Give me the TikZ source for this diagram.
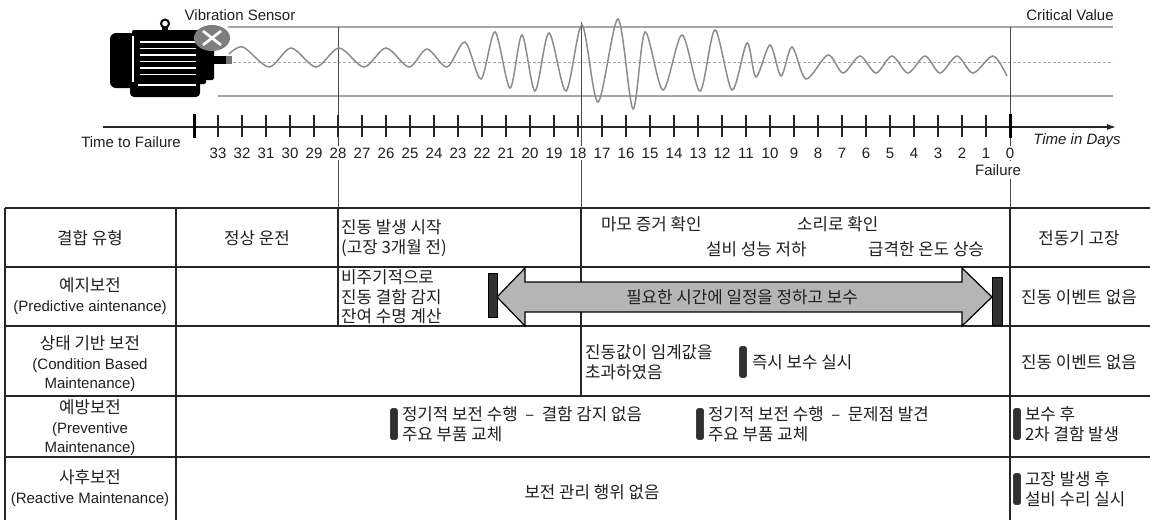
\documentclass[tikz,border=0pt]{standalone}
\usepackage{fontspec}
\setmainfont{Liberation Sans}
\newfontfamily\kr{Noto Sans CJK KR}
\usepackage{tikz}
\usetikzlibrary{arrows.meta,positioning}
\definecolor{ink}{HTML}{1F1F1F}
\definecolor{rulec}{HTML}{262626}
\definecolor{guidec}{HTML}{4A4A4A}
\definecolor{critc}{HTML}{A6A6A6}
\definecolor{wavec}{HTML}{8C8C8C}
\definecolor{sensorc}{HTML}{7E7E7E}
\definecolor{barc}{HTML}{303030}
\definecolor{bandc}{HTML}{B5B5B5}

\begin{document}
\begin{tikzpicture}[x=1pt,y=-1pt,
    lbl/.style={text=ink,inner sep=0pt,font=\fontsize{15}{19.5}\selectfont},
    kor/.style={lbl,font=\kr\fontsize{16.8}{20}\selectfont},
    daynum/.style={lbl,fill=white,inner xsep=1pt,inner ysep=2pt},
    marker/.style={fill=barc,draw=black!75,line width=0.6pt,rounded corners=1.5pt,minimum width=7pt,minimum height=31pt,inner sep=0pt},
    tblline/.style={rulec,line width=1.3}]
        \useasboundingbox (0,0) rectangle (1150,520);
        \draw[critc,line width=1.2] (228,27) -- (1113,27);
        \draw[critc,line width=1.2] (218,96) -- (1113,96);
        \draw[critc,line width=0.8,dash pattern=on 3pt off 2pt] (228,62) -- (1113,62);
        \draw[guidec,line width=1] (338,27) -- (338,208);
        \draw[guidec,line width=1] (581,22) -- (581,208);
        \draw[guidec,line width=1] (1010,27) -- (1010,208);
        \draw[wavec,line width=1.5] plot[smooth,tension=0.5] coordinates {(229,54) (243,47) (269,67) (291,48) (316,67) (339,48) (364,67) (386,48) (409,67) (427,49) (447,67) (465,42) (481,79) (495,32) (510,88) (522,35) (535,91) (549,33) (566,91) (582,25) (598,102) (618,19) (633,109) (645,32) (663,90) (682,35) (700,91) (715,30) (732,90) (747,43) (756,77) (770,45) (781,76) (792,47) (806,79) (828,55) (843,73) (860,56) (876,73) (892,56) (908,73) (925,56) (940,73) (957,56) (973,73) (993,56) (1007,76)};
        % motor
        \fill[black,rounded corners=6] (110,33) rectangle (136,88);
        \fill[black,rounded corners=2] (132,30) rectangle (206,84);
        \fill[black,rounded corners=4] (130,80) rectangle (200,97);
        \fill[black,rounded corners=2] (203,40) rectangle (214,80);
        \fill[black] (213,56) rectangle (229,64);
        \fill[black!55] (226,56) rectangle (232,64);
        \draw[black,line width=2] (165,23.5) circle (4);
        \fill[black] (162,27) rectangle (168,31);
        \draw[white,line width=1.2] (133,36) -- (133,82) (138,85) -- (196,85);
        \foreach \y in {42,48.5,55,61.5,68,74.5} {\draw[white,line width=1.8] (140,\y) -- (196,\y);}
        \fill[sensorc] (212,38) ellipse (18 and 13);
        \draw[white,line width=2.6] (203,31) -- (221,45) (203,45) -- (221,31);
        % time axis
        \draw[rulec,line width=1.2,-{Latex[length=9pt,width=6pt]}] (103,127) -- (1116,127);
        \foreach \d in {1,...,33} {\draw[rulec,line width=1.3] ({1010-24*\d},115) -- ({1010-24*\d},137);}
        \draw[black,line width=3] (194,114) -- (194,138) (1010,114) -- (1010,138);
        \foreach \d in {0,...,33} {\node[daynum] (d\d) at ({1010-24*\d},153) {\d};}
        \node[lbl] (sensorlbl) at (240,15) {Vibration Sensor};
        \node[lbl] (critlbl) at (1070,15) {Critical Value};
        \node[lbl] (ttflbl) at (131,142) {Time to Failure};
        \node[lbl,font=\fontsize{15}{19.5}\selectfont\itshape] (dayslbl) at (1077,141) {Time in Days};
        % table
        \foreach \y in {208,267,326,396,457} {\draw[tblline] (5,\y) -- (1150,\y);}
        \draw[tblline] (5,208) -- (5,520) (176,208) -- (176,520) (338,208) -- (338,326) (581,208) -- (581,396) (1010,208) -- (1010,520);
        \node[lbl,fill=white,inner ysep=3pt,inner xsep=1pt] (faillbl) at (998,170) {Failure};
        \draw[black,line width=1.2,fill=bandc] (497,297) -- (525,268) -- (525,282) -- (962,282) -- (962,268) -- (992,297) -- (962,326) -- (962,312) -- (525,312) -- (525,326) -- cycle;
        \draw[black,line width=1,fill=barc] (488,273) rectangle (497,317);
        \draw[black,line width=1,fill=barc] (992,277) rectangle (1002,325);
        \node[kor] (hdtype) at (90,238) {결합 유형};
        \node[kor] (hdnorm) at (257,238) {정상 운전};
        \node[kor,anchor=west,align=left] (hdonset) at (341,238) {진동 발생 시작\\(고장 3개월 전)};
        \node[kor,anchor=west] (hdwear) at (601,224) {마모 증거 확인};
        \node[kor,anchor=west] (hdsound) at (797,224) {소리로 확인};
        \node[kor,anchor=west] (hdperf) at (706,249) {설비 성능 저하};
        \node[kor,anchor=west] (hdtemp) at (868,249) {급격한 온도 상승};
        \node[kor] (hdfail) at (1079,238) {전동기 고장};
        \node[lbl,align=center] (pdm) at (90,296) {{\kr\fontsize{16.8}{19.5}\selectfont 예지보전}\\(Predictive aintenance)};
        \node[kor,anchor=west,align=left,font=\kr\fontsize{16.8}{19.3}\selectfont] (pdmnote) at (341,297) {비주기적으로\\진동 결함 감지\\잔여 수명 계산};
        \node[kor] (pdmplan) at (742,297) {필요한 시간에 일정을 정하고 보수};
        \node[kor] (pdmend) at (1079,297) {진동 이벤트 없음};
        \node[lbl,align=center] (cbm) at (90,364) {{\kr\fontsize{16.8}{19.5}\selectfont 상태 기반 보전}\\(Condition Based\\Maintenance)};
        \node[kor,anchor=west,align=left] (cbmnote) at (585,362) {진동값이 임계값을\\초과하였음};
        \node[marker] (cbmbar) at (743,362) {};
        \node[kor,right=5pt of cbmbar] (cbmfix) {즉시 보수 실시};
        \node[kor] (cbmend) at (1079,362) {진동 이벤트 없음};
        \node[lbl,align=center] (pvm) at (90,428) {{\kr\fontsize{16.8}{19.5}\selectfont 예방보전}\\(Preventive\\Maintenance)};
        \node[marker] (pvmbar1) at (394,424) {};
        \node[kor,right=4pt of pvmbar1,align=left] (pvmnote1) {정기적 보전 수행~~–~~결함 감지 없음\\주요 부품 교체};
        \node[marker] (pvmbar2) at (700,424) {};
        \node[kor,right=4pt of pvmbar2,align=left] (pvmnote2) {정기적 보전 수행~~–~~문제점 발견\\주요 부품 교체};
        \node[marker] (pvmbar3) at (1017,424) {};
        \node[kor,right=4pt of pvmbar3,align=left] (pvmnote3) {보수 후\\2차 결함 발생};
        \node[lbl,align=center] (rtm) at (90,488) {{\kr\fontsize{16.8}{19.5}\selectfont 사후보전}\\(Reactive Maintenance)};
        \node[kor] (rtmnote) at (592,492) {보전 관리 행위 없음};
        \node[marker] (rtmbar) at (1017,489) {};
        \node[kor,right=4pt of rtmbar,align=left] (rtmnote2) {고장 발생 후\\설비 수리 실시};
      \end{tikzpicture}
\end{document}
